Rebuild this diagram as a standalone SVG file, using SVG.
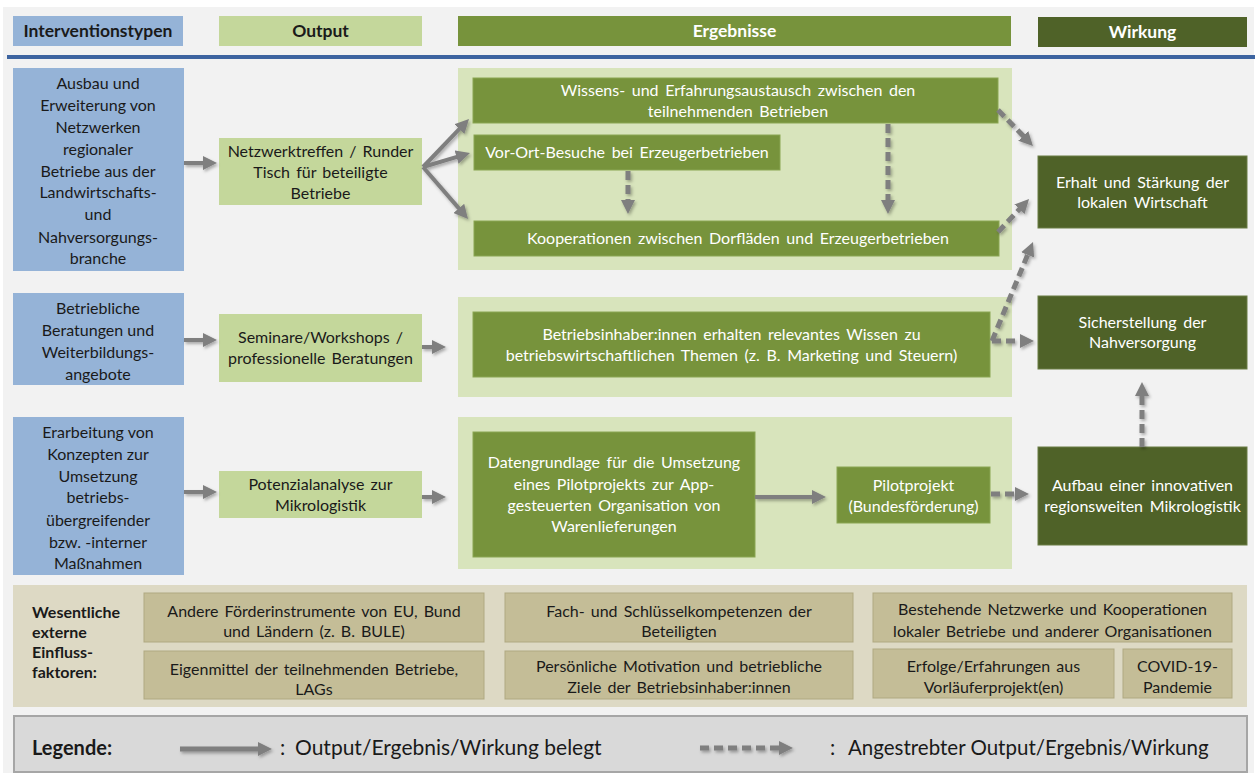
<svg xmlns="http://www.w3.org/2000/svg" width="1257" height="775" viewBox="0 0 1257 775">
<defs>
<style>
text{font-family:Lato,"Open Sans","Liberation Sans",sans-serif;font-size:16px;fill:#1a1a1a;text-anchor:middle}
.w{fill:#ffffff;word-spacing:2.5px}
.hd{font-weight:bold;font-size:17.5px;word-spacing:0}
.lb{font-weight:bold;text-anchor:start}
.bt{word-spacing:2px}
.lg{font-size:21px;text-anchor:start}
.blue{fill:#95b3d7}
.out{fill:#c4d79b}
.pan{fill:#d8e4bc}
.g{fill:#77933c;stroke:#8aa552;stroke-width:1}
.dg{fill:#4f6228;stroke:#6a7d45;stroke-width:1}
.bx{fill:#c4bd97;stroke:#b0a981;stroke-width:1}
.sol{stroke:#7f7f7f;stroke-width:4;fill:none}
.dash{stroke:#7f7f7f;stroke-width:5;fill:none;stroke-dasharray:9 5}
</style>
<marker id="ah" markerUnits="userSpaceOnUse" markerWidth="14" markerHeight="14" refX="4" refY="7" orient="auto">
<path d="M0,0 L14,7 L0,14 z" fill="#7f7f7f"/>
</marker>
<filter id="sh" filterUnits="userSpaceOnUse" x="0" y="0" width="1257" height="775">
<feDropShadow dx="1.5" dy="2" stdDeviation="1.5" flood-color="#000" flood-opacity="0.3"/>
</filter>
</defs>
<rect x="0" y="0" width="1257" height="775" fill="#ffffff"/>
<rect x="3" y="7" width="1251" height="766" fill="#f2f2f2"/>

<g id="header">
<rect x="13" y="16" width="170" height="30" class="blue"/>
<text x="98" y="37" class="hd">Interventionstypen</text>
<rect x="219" y="16" width="203" height="30" class="out"/>
<text x="320.5" y="37" class="hd">Output</text>
<rect x="458" y="16" width="553" height="30" fill="#77933c"/>
<text x="734.5" y="37" class="hd w">Ergebnisse</text>
<rect x="1038" y="17" width="209" height="30" fill="#4f6228"/>
<text x="1142.5" y="38" class="hd w">Wirkung</text>
<rect x="7" y="55" width="1248" height="4" fill="#3d64a0"/>
</g>

<g id="panels">
<rect x="458" y="68" width="554" height="202" class="pan"/>
<rect x="458" y="297" width="554" height="100" class="pan"/>
<rect x="458" y="417" width="554" height="152" class="pan"/>
</g>

<g id="int1">
<rect x="13" y="68" width="171" height="203" class="blue"/>
<text x="98" y="89">Ausbau und</text>
<text x="98" y="111">Erweiterung von</text>
<text x="98" y="133">Netzwerken</text>
<text x="98" y="155">regionaler</text>
<text x="98" y="177">Betriebe aus der</text>
<text x="98" y="198">Landwirtschafts-</text>
<text x="98" y="220">und</text>
<text x="98" y="243">Nahversorgungs-</text>
<text x="98" y="264">branche</text>
</g>
<g id="int2">
<rect x="13" y="293" width="171" height="92" class="blue"/>
<text x="98" y="314">Betriebliche</text>
<text x="98" y="336">Beratungen und</text>
<text x="98" y="358">Weiterbildungs-</text>
<text x="98" y="380">angebote</text>
</g>
<g id="int3">
<rect x="13" y="417" width="171" height="158" class="blue"/>
<text x="98" y="438">Erarbeitung von</text>
<text x="98" y="460">Konzepten zur</text>
<text x="98" y="482">Umsetzung</text>
<text x="98" y="503">betriebs-</text>
<text x="98" y="526">übergreifender</text>
<text x="98" y="548">bzw. -interner</text>
<text x="98" y="569">Maßnahmen</text>
</g>

<g id="out1">
<rect x="219" y="138" width="203" height="67" class="out"/>
<text x="320.5" y="157" class="bt">Netzwerktreffen / Runder</text>
<text x="320.5" y="178" class="bt">Tisch für beteiligte</text>
<text x="320.5" y="199" class="bt">Betriebe</text>
</g>
<g id="out2">
<rect x="219" y="314" width="203" height="68" class="out"/>
<text x="320.5" y="343" class="bt">Seminare/Workshops /</text>
<text x="320.5" y="364" class="bt">professionelle Beratungen</text>
</g>
<g id="out3">
<rect x="219" y="471" width="203" height="47" class="out"/>
<text x="320.5" y="490" class="bt">Potenzialanalyse zur</text>
<text x="320.5" y="511" class="bt">Mikrologistik</text>
</g>

<g id="erg-wissen">
<rect x="473" y="78" width="525" height="45" class="g"/>
<text x="738" y="96" class="w">Wissens- und Erfahrungsaustausch zwischen den</text>
<text x="738" y="117" class="w">teilnehmenden Betrieben</text>
</g>
<g id="erg-besuche">
<rect x="474" y="135" width="306" height="35" class="g"/>
<text x="627" y="158" class="w">Vor-Ort-Besuche bei Erzeugerbetrieben</text>
</g>
<g id="erg-koop">
<rect x="474" y="221" width="525" height="35" class="g"/>
<text x="738" y="244" class="w">Kooperationen zwischen Dorfläden und Erzeugerbetrieben</text>
</g>
<g id="erg-wissen2">
<rect x="473" y="312" width="517" height="65" class="g"/>
<text x="731.5" y="340" class="w">Betriebsinhaber:innen erhalten relevantes Wissen zu</text>
<text x="731.5" y="361" class="w">betriebswirtschaftlichen Themen (z. B. Marketing und Steuern)</text>
</g>
<g id="erg-daten">
<rect x="473" y="432" width="282" height="125" class="g"/>
<text x="614" y="468" class="w">Datengrundlage für die Umsetzung</text>
<text x="614" y="490" class="w">eines Pilotprojekts zur App-</text>
<text x="614" y="511" class="w">gesteuerten Organisation von</text>
<text x="614" y="532" class="w">Warenlieferungen</text>
</g>
<g id="erg-pilot">
<rect x="837" y="467" width="153" height="56" class="g"/>
<text x="913.5" y="491" class="w">Pilotprojekt</text>
<text x="913.5" y="512" class="w">(Bundesförderung)</text>
</g>

<g id="wirk1">
<rect x="1038" y="156" width="209" height="72" class="dg"/>
<text x="1142.5" y="188" class="w">Erhalt und Stärkung der</text>
<text x="1142.5" y="208" class="w">lokalen Wirtschaft</text>
</g>
<g id="wirk2">
<rect x="1038" y="296" width="209" height="73" class="dg"/>
<text x="1142.5" y="328" class="w">Sicherstellung der</text>
<text x="1142.5" y="348" class="w">Nahversorgung</text>
</g>
<g id="wirk3">
<rect x="1038" y="447" width="209" height="98" class="dg"/>
<text x="1142.5" y="491" class="w">Aufbau einer innovativen</text>
<text x="1142.5" y="512" class="w">regionsweiten Mikrologistik</text>
</g>

<g id="connectors" filter="url(#sh)">
<line x1="184" y1="163" x2="207" y2="163" class="sol" marker-end="url(#ah)"/>
<line x1="184" y1="340" x2="207" y2="340" class="sol" marker-end="url(#ah)"/>
<line x1="184" y1="492" x2="207" y2="492" class="sol" marker-end="url(#ah)"/>
<line x1="423" y1="167" x2="462.1" y2="126.2" class="sol" marker-end="url(#ah)"/>
<line x1="423" y1="167" x2="460.4" y2="155.9" class="sol" marker-end="url(#ah)"/>
<line x1="423" y1="167" x2="461.5" y2="211.4" class="sol" marker-end="url(#ah)"/>
<line x1="422" y1="347" x2="436" y2="347" class="sol" marker-end="url(#ah)"/>
<line x1="422" y1="497" x2="436" y2="497" class="sol" marker-end="url(#ah)"/>
<line x1="755" y1="497" x2="816" y2="497" class="sol" marker-end="url(#ah)"/>
<line x1="628" y1="171" x2="628" y2="204" class="dash" marker-end="url(#ah)"/>
<line x1="888" y1="124" x2="888" y2="204" class="dash" marker-end="url(#ah)"/>
<line x1="998" y1="110" x2="1026" y2="138.8" class="dash" marker-end="url(#ah)"/>
<line x1="998" y1="232" x2="1022.2" y2="206.3" class="dash" marker-end="url(#ah)"/>
<line x1="992" y1="341" x2="1029.2" y2="251.2" class="dash" marker-end="url(#ah)"/>
<line x1="992" y1="341" x2="1024" y2="341" class="dash" marker-end="url(#ah)"/>
<line x1="991" y1="494" x2="1019" y2="494" class="dash" marker-end="url(#ah)"/>
<line x1="1142" y1="447" x2="1142" y2="392" class="dash" marker-end="url(#ah)"/>
</g>

<g id="einfluss">
<rect x="13" y="585" width="1234" height="122" fill="#ddd9c4"/>
<text x="32" y="618" class="lb">Wesentliche</text>
<text x="32" y="638" class="lb">externe</text>
<text x="32" y="658" class="lb">Einfluss-</text>
<text x="32" y="678" class="lb">faktoren:</text>
<rect x="144" y="593" width="340" height="49" class="bx"/>
<text x="314" y="617" class="bt">Andere Förderinstrumente von EU, Bund</text>
<text x="314" y="637" class="bt">und Ländern (z. B. BULE)</text>
<rect x="144" y="651" width="340" height="48" class="bx"/>
<text x="314" y="675" class="bt">Eigenmittel der teilnehmenden Betriebe,</text>
<text x="314" y="695" class="bt">LAGs</text>
<rect x="505" y="593" width="348" height="49" class="bx"/>
<text x="679" y="617" class="bt">Fach- und Schlüsselkompetenzen der</text>
<text x="679" y="637" class="bt">Beteiligten</text>
<rect x="505" y="651" width="348" height="48" class="bx"/>
<text x="679" y="672" class="bt">Persönliche Motivation und betriebliche</text>
<text x="679" y="693" class="bt">Ziele der Betriebsinhaber:innen</text>
<rect x="873" y="593" width="359" height="49" class="bx"/>
<text x="1052.5" y="615" class="bt">Bestehende Netzwerke und Kooperationen</text>
<text x="1052.5" y="637" class="bt">lokaler Betriebe und anderer Organisationen</text>
<rect x="873" y="649" width="241" height="49" class="bx"/>
<text x="993.5" y="672" class="bt">Erfolge/Erfahrungen aus</text>
<text x="993.5" y="693" class="bt">Vorläuferprojekt(en)</text>
<rect x="1123" y="649" width="109" height="49" class="bx"/>
<text x="1177.5" y="672" class="bt">COVID-19-</text>
<text x="1177.5" y="693" class="bt">Pandemie</text>
</g>

<g id="legende">
<rect x="14" y="716" width="1233" height="56" fill="#d9d9d9" stroke="#a6a6a6" stroke-width="2"/>
<text x="32" y="755" class="lb" style="font-size:20px">Legende:</text>
<g filter="url(#sh)">
<line x1="180" y1="749" x2="262" y2="749" class="sol" style="stroke-width:5" marker-end="url(#ah)"/>
<line x1="700" y1="748" x2="783" y2="748" class="dash" marker-end="url(#ah)"/>
</g>
<text x="280" y="755" class="lg">:</text>
<text x="295" y="755" class="lg">Output/Ergebnis/Wirkung belegt</text>
<text x="830" y="755" class="lg">:</text>
<text x="848" y="755" class="lg" style="font-size:20.5px">Angestrebter Output/Ergebnis/Wirkung</text>
</g>
</svg>
